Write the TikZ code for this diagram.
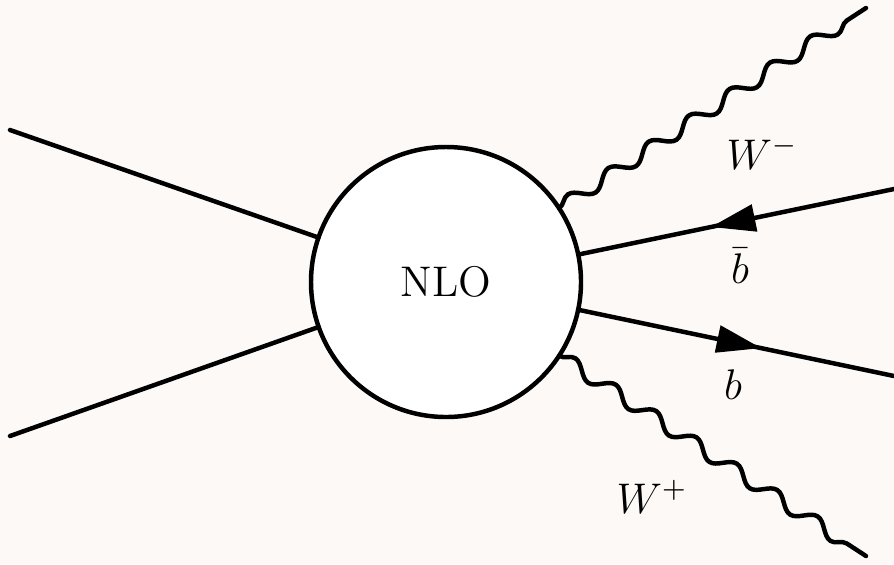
\documentclass[tikz,border=0pt]{standalone}
\usetikzlibrary{decorations.pathmorphing,decorations.markings,arrows.meta}
\definecolor{paper}{RGB}{252,249,246}
\begin{document}
\begin{tikzpicture}[x=0.28pt,y=-0.28pt,
  line width=1.25pt, line cap=round,
  blobstyle/.style={circle, draw, fill=white, minimum size=75.6pt, inner sep=0pt, outer sep=0pt, font=\large},
  plain/.style={draw},
  fermion/.style={draw, postaction={decorate},
    decoration={markings, mark=at position 0.58 with {\arrow{Triangle[length=12.5pt,width=7.5pt]}}}},
  boson/.style={draw, decorate, decoration={snake, segment length=13.5pt, amplitude=1.9pt}},
  lab/.style={font=\large, inner sep=0pt}]
  % page
  \fill[paper] (0,0) rectangle (894,564);
  \useasboundingbox (0,0) rectangle (894,564);

  % vertex blob
  \node[blobstyle] (blob) at (446,282) {NLO};

  % external points
  \coordinate (in1) at (10,130);
  \coordinate (in2) at (10,436);
  \coordinate (bbar) at (894,189);
  \coordinate (bq) at (894,376);
  \coordinate (wm) at (866,8);
  \coordinate (wp) at (866,556);

  % incoming legs
  \draw[plain] (in1) -- (blob);
  \draw[plain] (in2) -- (blob);

  % quark lines
  \draw[fermion] (bbar) -- (blob);
  \draw[fermion] (blob) -- (bq);

  % W bosons
  \path[boson] (blob) -- (wm);
  \path[boson] (blob) -- (wp);

  % labels
  \node[lab] (lwm) at (762,153) {$W^-$};
  \node[lab] (lbbar) at (740,266) {$\bar b$};
  \node[lab] (lb) at (733,385) {$b$};
  \node[lab] (lwp) at (652,497) {$W^+$};
\end{tikzpicture}
\end{document}
